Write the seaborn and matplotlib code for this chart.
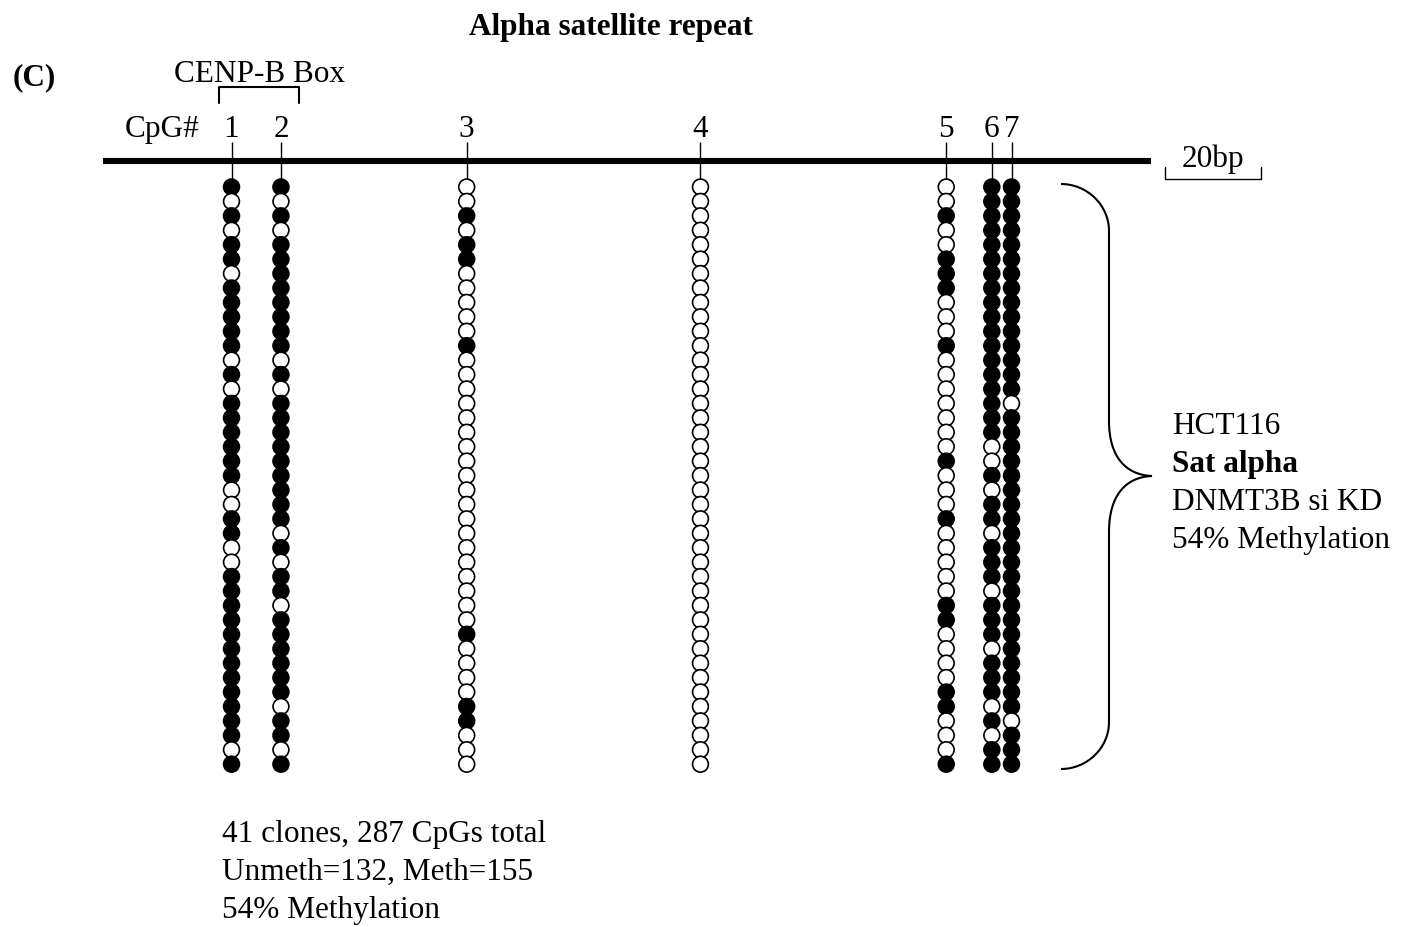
"""HCT116 Sat alpha bisulfite clones (DNMT3B si KD) as a lollipop chart."""

import matplotlib.pyplot as plt
import pandas as pd
import seaborn as sns
from matplotlib.patches import PathPatch
from matplotlib.path import Path

# CpG sites along the alpha satellite repeat (bp from CpG 1)
CPG_LABELS = ["1", "2", "3", "4", "5", "6", "7"]
CPG_POSITIONS = [0, 10.3, 49.0, 97.7, 148.9, 158.4, 162.5]

# one string per CpG, clones top to bottom: 1 = methylated, 0 = unmethylated
CPG1 = "10101101111101011111" "100110011111111111101"
CPG2 = "10101111111101011111" "111101011011111101101"
CPG3 = "00101100000100000000" "000000000001000011000"
CPG4 = "00000000000000000000" "000000000000000000000"
CPG5 = "00100111000100000001" "000100000110000110001"
CPG6 = "11111111111111111100" "101101110111011101011"
CPG7 = "11111111111111101111" "111111111111111110111"
CLONE_PATTERNS = [CPG1, CPG2, CPG3, CPG4, CPG5, CPG6, CPG7]

SUMMARY_LINES = [
    "41 clones, 287 CpGs total",
    "Unmeth=132, Meth=155",
    "54% Methylation",
]
SAMPLE_LINES = ["HCT116", "Sat alpha", "DNMT3B si KD", "54% Methylation"]

# pixel layout of the reference page
W, H = 1403, 928
X0, PX_PER_BP = 231.5, 4.8
Y0, PX_PER_CLONE = 188.0, 14.43


def px(x):
    return (x - X0) / PX_PER_BP


def py(y):
    return (y - Y0) / PX_PER_CLONE


rows = []
for label, pos, pattern in zip(CPG_LABELS, CPG_POSITIONS, CLONE_PATTERNS):
    for clone, flag in enumerate(pattern):
        rows.append(
            {
                "cpg": label,
                "position": pos,
                "clone": clone,
                "status": "methylated" if flag == "1" else "unmethylated",
            }
        )
clones = pd.DataFrame(rows)

sns.set_style("white")
plt.rcParams["font.family"] = ["Liberation Serif", "DejaVu Serif"]
plt.rcParams["text.color"] = "black"
FS = 22.5

fig = plt.figure(figsize=(W / 100, H / 100), dpi=100)
ax = fig.add_axes([0, 0, 1, 1])

# backbone and stems
ax.hlines(py(162), px(103), px(1151), color="black", lw=4.4, zorder=2)
ax.vlines(CPG_POSITIONS, py(143), 0, color="black", lw=1.0, zorder=1)

sns.scatterplot(
    data=clones,
    x="position",
    y="clone",
    hue="status",
    palette={"methylated": "black", "unmethylated": "white"},
    edgecolor="black",
    linewidth=1.2,
    s=130,
    legend=False,
    zorder=3,
    ax=ax,
)
ax.set_xlim(px(0), px(W))
ax.set_ylim(py(H), py(0))
ax.axis("off")

for label, pos in zip(CPG_LABELS, CPG_POSITIONS):
    ax.text(pos, py(137), label, ha="center", va="baseline", fontsize=FS)
ax.text(px(200), py(137), "CpG#", ha="right", va="baseline", fontsize=FS)

# CENP-B box bracket
ax.plot([px(219), px(219), px(299), px(299)],
        [py(104), py(88), py(88), py(104)], color="black", lw=1.5)
ax.text(px(259), py(82), "CENP-B Box", ha="center", va="baseline", fontsize=FS)

ax.text(px(611), py(35), "Alpha satellite repeat", ha="center",
        va="baseline", fontsize=FS, fontweight="bold")
ax.text(px(13), py(85), "(C)", ha="left", va="baseline", fontsize=FS,
        fontweight="bold")

# 20 bp scale bar
bar_start = px(1165)
ax.plot([bar_start, bar_start, bar_start + 20, bar_start + 20],
        [py(168), py(180), py(180), py(168)], color="black", lw=1.0)
ax.text(bar_start + 10, py(167), "20bp", ha="center", va="baseline",
        fontsize=FS)

# curly brace around the clones
brace = [
    (1061, 185), (1087, 185), (1109, 206), (1109, 232),
    (1109, 422),
    (1109, 458), (1126, 476), (1152, 477),
    (1126, 478), (1109, 496), (1109, 533),
    (1109, 723),
    (1109, 749), (1087, 770), (1061, 770),
]
codes = [Path.MOVETO] + [Path.CURVE4] * 3 + [Path.LINETO] + [Path.CURVE4] * 6 \
    + [Path.LINETO] + [Path.CURVE4] * 3
verts = [(px(x), py(y)) for x, y in brace]
ax.add_patch(PathPatch(Path(verts, codes), facecolor="none",
                       edgecolor="black", lw=1.5))

for i, line in enumerate(SAMPLE_LINES):
    ax.text(px(1172), py(434 + 38 * i), line, ha="left", va="baseline",
            fontsize=FS, fontweight="bold" if line == "Sat alpha" else "normal")

for i, line in enumerate(SUMMARY_LINES):
    ax.text(px(222), py(842 + 38 * i), line, ha="left", va="baseline",
            fontsize=FS)

fig.savefig("out.png", dpi=100, facecolor="white")
plt.close(fig)
